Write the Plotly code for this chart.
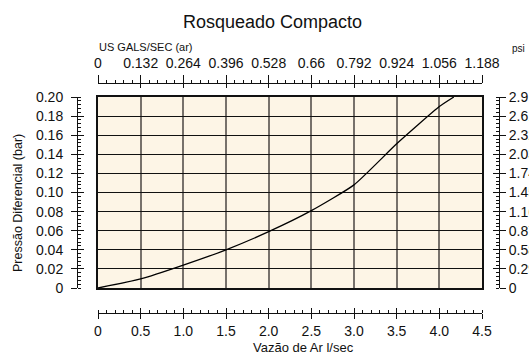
import plotly.graph_objects as go

# Air flow (l/sec) vs differential pressure (bar)
flow_lps = [0, 0.5, 1.0, 1.5, 2.0, 2.5, 3.0, 3.5, 4.0, 4.17]
pressure_bar = [0, 0.0095, 0.024, 0.040, 0.059, 0.081, 0.108, 0.151, 0.190, 0.200]

# Secondary scales
gal_ticks = [0, 0.132, 0.264, 0.396, 0.528, 0.66, 0.792, 0.924, 1.056, 1.188]
gal_labels = ["0", "0.132", "0.264", "0.396", "0.528", "0.66", "0.792", "0.924", "1.056", "1.188"]
psi_ticks = [0, 0.29, 0.58, 0.87, 1.16, 1.45, 1.74, 2.03, 2.32, 2.61, 2.9]
psi_labels = ["0", "0.29", "0.58", "0.87", "1.16", "1.45", "1.74", "2.03", "2.32", "2.61", "2.9"]
bar_ticks = [0, 0.02, 0.04, 0.06, 0.08, 0.10, 0.12, 0.14, 0.16, 0.18, 0.20]
bar_labels = ["0", "0.02", "0.04", "0.06", "0.08", "0.10", "0.12", "0.14", "0.16", "0.18", "0.20"]
lps_ticks = [0, 0.5, 1.0, 1.5, 2.0, 2.5, 3.0, 3.5, 4.0, 4.5]
lps_labels = ["0", "0.5", "1.0", "1.5", "2.0", "2.5", "3.0", "3.5", "4.0", "4.5"]

W, H = 529, 356
L, R, T, B = 77, 30, 83, 43
pw, ph = W - L - R, H - T - B


def px(x):
    return (x - L) / pw


def py(y):
    return (H - B - y) / ph


XDOM = [px(98), px(482)]
YDOM = [py(288), py(97)]
FONT = "Arial, Liberation Sans, sans-serif"
INK = "#111111"

fig = go.Figure()
fig.add_trace(go.Scatter(x=flow_lps, y=pressure_bar, mode="lines",
                         line=dict(color="black", width=1.3, shape="spline", smoothing=0.5),
                         hoverinfo="skip", showlegend=False))

# empty traces so every scale axis is drawn
for xa, ya in [("x2", "y"), ("x3", "y"), ("x4", "y"), ("x5", "y"),
               ("x", "y2"), ("x", "y3"), ("x", "y4"), ("x", "y5")]:
    fig.add_trace(go.Scatter(x=[None], y=[None], xaxis=xa, yaxis=ya,
                             showlegend=False, hoverinfo="skip"))

tickfont = dict(family=FONT, size=14, color=INK)

fig.update_layout(
    width=W, height=H,
    margin=dict(l=L, r=R, t=T, b=B, autoexpand=False),
    paper_bgcolor="white",
    plot_bgcolor="#FDF5E6",
    xaxis=dict(domain=XDOM, range=[0, 4.5], tickvals=lps_ticks, showticklabels=False,
               showgrid=True, gridcolor="#77716b", gridwidth=2, zeroline=False,
               showline=True, mirror=True, linecolor=INK, linewidth=1.5, ticks="",
               anchor="y", fixedrange=True, automargin=False),
    yaxis=dict(domain=YDOM, range=[0, 0.2], tickvals=bar_ticks, showticklabels=False,
               showgrid=True, gridcolor=INK, gridwidth=1.3, zeroline=False,
               showline=True, mirror=True, linecolor=INK, linewidth=1.5, ticks="",
               anchor="x", fixedrange=True, automargin=False),
    # bottom l/sec scale
    xaxis2=dict(domain=XDOM, range=[0, 4.5], overlaying="x", anchor="free", position=0,
                side="bottom", tickvals=lps_ticks, ticktext=lps_labels, tickfont=tickfont,
                ticks="outside", ticklen=5, tickwidth=1, tickcolor=INK,
                minor=dict(dtick=0.1, ticks="inside", ticklen=3, tickwidth=1, tickcolor=INK),
                showline=True, linecolor=INK, linewidth=1, showgrid=False, zeroline=False,
                automargin=False),
    xaxis3=dict(domain=XDOM, range=[0, 4.5], overlaying="x", anchor="free", position=0,
                side="bottom", tickvals=lps_ticks, showticklabels=False,
                ticks="inside", ticklen=5, tickwidth=1, tickcolor=INK,
                showline=False, showgrid=False, zeroline=False, automargin=False),
    # top US gal/sec scale
    xaxis4=dict(domain=XDOM, range=[0, 1.188], overlaying="x", anchor="free", position=1,
                side="top", tickvals=gal_ticks, ticktext=gal_labels, tickfont=tickfont,
                ticks="outside", ticklen=8, tickwidth=1, tickcolor=INK, ticklabelstandoff=1,
                minor=dict(dtick=0.0264, ticks="outside", ticklen=3, tickwidth=1, tickcolor=INK),
                showline=True, linecolor=INK, linewidth=1, showgrid=False, zeroline=False,
                automargin=False),
    xaxis5=dict(domain=XDOM, range=[0, 1.188], overlaying="x", anchor="free", position=1,
                side="top", tickvals=gal_ticks, showticklabels=False,
                ticks="inside", ticklen=4, tickwidth=1, tickcolor=INK,
                showline=False, showgrid=False, zeroline=False, automargin=False),
    # left bar scale
    yaxis2=dict(domain=YDOM, range=[0, 0.2], overlaying="y", anchor="free", position=0,
                side="left", tickvals=bar_ticks, ticktext=bar_labels, tickfont=tickfont,
                ticks="outside", ticklen=6, tickwidth=1, tickcolor=INK, ticklabelstandoff=5,
                minor=dict(dtick=0.004, ticks="inside", ticklen=3, tickwidth=1, tickcolor=INK),
                showline=True, linecolor=INK, linewidth=1, showgrid=False, zeroline=False,
                automargin=False),
    yaxis3=dict(domain=YDOM, range=[0, 0.2], overlaying="y", anchor="free", position=0,
                side="left", tickvals=bar_ticks, showticklabels=False,
                ticks="inside", ticklen=6, tickwidth=1, tickcolor=INK,
                showline=False, showgrid=False, zeroline=False, automargin=False),
    # right psi scale
    yaxis4=dict(domain=YDOM, range=[0, 2.9], overlaying="y", anchor="free", position=1,
                side="right", tickvals=psi_ticks, ticktext=psi_labels, tickfont=tickfont,
                ticks="outside", ticklen=6, tickwidth=1, tickcolor=INK,
                minor=dict(dtick=0.058, ticks="inside", ticklen=3, tickwidth=1, tickcolor=INK),
                showline=True, linecolor=INK, linewidth=1, showgrid=False, zeroline=False,
                automargin=False),
    yaxis5=dict(domain=YDOM, range=[0, 2.9], overlaying="y", anchor="free", position=1,
                side="right", tickvals=psi_ticks, showticklabels=False,
                ticks="inside", ticklen=6, tickwidth=1, tickcolor=INK,
                showline=False, showgrid=False, zeroline=False, automargin=False),
    showlegend=False,
)

ann = [
    dict(text="Rosqueado Compacto", x=px(272), y=py(22), size=18),
    dict(text="US GALS/SEC (ar)", x=px(146), y=py(47), size=11),
    dict(text="psi", x=px(518), y=py(49), size=10),
    dict(text="Vazão de Ar l/sec", x=px(303), y=py(347), size=13),
]
for a in ann:
    fig.add_annotation(text=a["text"], x=a["x"], y=a["y"], xref="paper", yref="paper",
                       xanchor="center", yanchor="middle", showarrow=False,
                       font=dict(family=FONT, size=a["size"], color=INK))
fig.add_annotation(text="Pressão Diferencial (bar)", x=px(18), y=py(203), xref="paper",
                   yref="paper", xanchor="center", yanchor="middle", showarrow=False,
                   textangle=-90, font=dict(family=FONT, size=12.5, color=INK))

fig.write_html("out.html")
